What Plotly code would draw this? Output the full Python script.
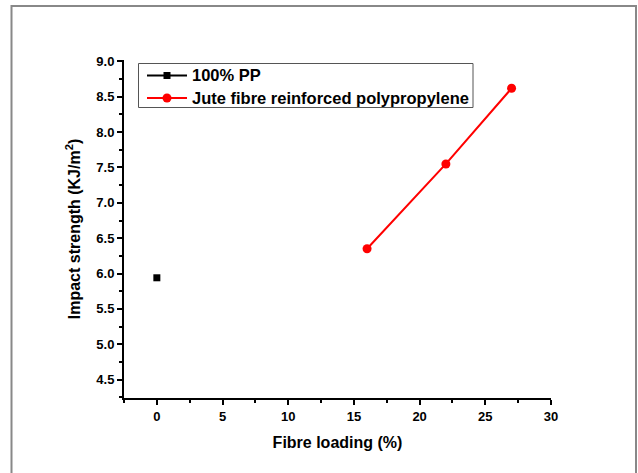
import plotly.graph_objects as go

pp_x = [0]
pp_y = [5.94]
jute_x = [16, 22, 27]
jute_y = [6.35, 7.55, 8.62]
series_names = ["100% PP", "Jute fibre reinforced polypropylene"]
x_ticks = [0, 5, 10, 15, 20, 25, 30]
y_ticks = [4.5, 5.0, 5.5, 6.0, 6.5, 7.0, 7.5, 8.0, 8.5, 9.0]

W, H = 638, 473
L, R, T, B = 124, 87, 60, 75
pw, ph = W - L - R, H - T - B

def px2paper_x(px):
    return (px - L) / pw

def px2paper_y(py):
    return (H - B - py) / ph

fnt = "Liberation Sans, Arial, sans-serif"
colors = ["black", "#ff0000"]
symbols = ["square", "circle"]
msizes = [7, 9]

fig = go.Figure()
fig.add_trace(go.Scatter(x=pp_x, y=pp_y, mode="lines+markers", name=series_names[0],
                         line=dict(color=colors[0], width=2),
                         marker=dict(symbol=symbols[0], size=msizes[0], color=colors[0])))
fig.add_trace(go.Scatter(x=jute_x, y=jute_y, mode="lines+markers", name=series_names[1],
                         line=dict(color=colors[1], width=2),
                         marker=dict(symbol=symbols[1], size=msizes[1], color=colors[1])))

fig.update_layout(
    width=W, height=H,
    margin=dict(l=L, r=R, t=T, b=B),
    paper_bgcolor="white", plot_bgcolor="white",
    font=dict(family=fnt, color="black"),
    showlegend=False,
    xaxis=dict(range=[-2.5, 30], tickvals=x_ticks, showgrid=False, zeroline=False,
               showline=True, linecolor="black", linewidth=2,
               ticks="outside", ticklen=5, tickwidth=2, tickcolor="black",
               minor=dict(dtick=2.5, ticks="outside", ticklen=3, tickwidth=2, tickcolor="black", showgrid=False),
               tickfont=dict(size=13, family=fnt, weight="bold"),
               title=dict(text="Fibre loading (%)", font=dict(size=16, family=fnt, weight="bold"), standoff=14)),
    yaxis=dict(range=[4.24, 9.02], tickvals=y_ticks, ticktext=[f"{v:.1f}" for v in y_ticks],
               showgrid=False, zeroline=False,
               showline=True, linecolor="black", linewidth=2,
               ticks="outside", ticklen=5, tickwidth=2, tickcolor="black",
               minor=dict(dtick=0.25, tick0=4.25, ticks="outside", ticklen=3, tickwidth=2, tickcolor="black", showgrid=False),
               tickfont=dict(size=13, family=fnt, weight="bold"),
               title=dict(text="Impact strength (KJ/m<sup>2</sup>)", font=dict(size=16, family=fnt, weight="bold"), standoff=12)),
)

# outer frame
fig.add_shape(type="rect", xref="paper", yref="paper",
              x0=px2paper_x(11.5), x1=px2paper_x(636), y0=px2paper_y(478), y1=px2paper_y(6),
              line=dict(color="#888888", width=2), fillcolor="rgba(0,0,0,0)", layer="below")

# legend box
fig.add_shape(type="rect", xref="paper", yref="paper",
              x0=px2paper_x(138.5), x1=px2paper_x(473), y0=px2paper_y(107.5), y1=px2paper_y(63.5),
              line=dict(color="#555555", width=1), fillcolor="white")
rows_y = [75.5, 98]
for i in range(2):
    yy = px2paper_y(rows_y[i])
    fig.add_shape(type="line", xref="paper", yref="paper",
                  x0=px2paper_x(147), x1=px2paper_x(187), y0=yy, y1=yy,
                  line=dict(color=colors[i], width=2))
    h = msizes[i] / 2
    fig.add_shape(type="rect" if symbols[i] == "square" else "circle", xref="paper", yref="paper",
                  x0=px2paper_x(167 - h), x1=px2paper_x(167 + h),
                  y0=px2paper_y(rows_y[i] + h), y1=px2paper_y(rows_y[i] - h),
                  line=dict(color=colors[i], width=0), fillcolor=colors[i])
    fig.add_annotation(xref="paper", yref="paper", x=px2paper_x(190), y=yy,
                       xanchor="left", yanchor="middle", showarrow=False,
                       text=series_names[i], font=dict(size=16.5, family=fnt, weight="bold", color="black"))

fig.write_html("out.html", config={"displayModeBar": False},
               post_script="document.body.style.margin='0';document.body.style.overflow='hidden';")
